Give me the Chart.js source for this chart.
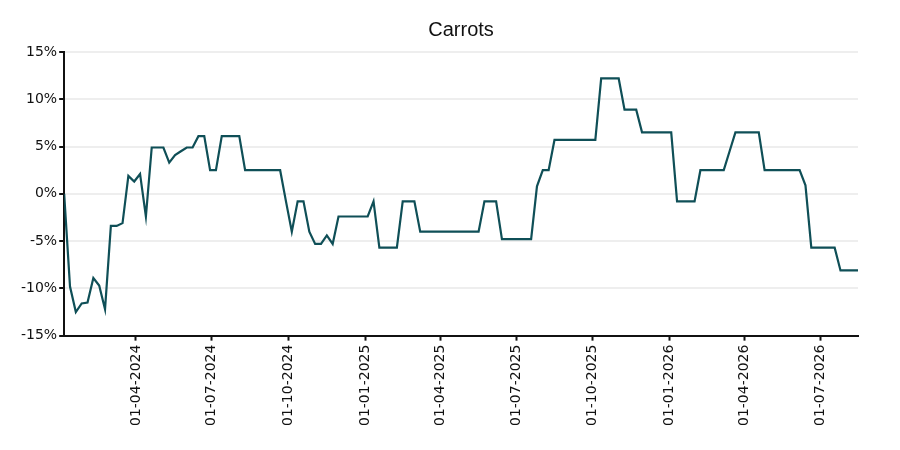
<!DOCTYPE html>
<html>
<head>
<meta charset="utf-8">
<script src="https://cdn.jsdelivr.net/npm/chart.js@4"></script>
<style>
    html, body { margin: 0; padding: 0; background: #ffffff; }
    #wrap { width: 900px; height: 450px; }
</style>
</head>
<body>
<div id="wrap"><canvas id="carrotsChart"></canvas></div>
<script>
// Weekly series, first week starts 06-01-2024
const startDate = '2024-01-06';
const changePct = [
    0, -9.8, -12.5, -11.6, -11.5, -8.9, -9.7, -12.2, -3.4, -3.4,
    -3.1, 1.9, 1.3, 2.1, -2.4, 4.9, 4.9, 4.9, 3.3, 4.1,
    4.5, 4.9, 4.9, 6.1, 6.1, 2.5, 2.5, 6.1, 6.1, 6.1,
    6.1, 2.5, 2.5, 2.5, 2.5, 2.5, 2.5, 2.5, -0.8, -4.0,
    -0.8, -0.8, -4.0, -5.3, -5.3, -4.4, -5.3, -2.4, -2.4, -2.4,
    -2.4, -2.4, -2.4, -0.8, -5.7, -5.7, -5.7, -5.7, -0.8, -0.8,
    -0.8, -4.0, -4.0, -4.0, -4.0, -4.0, -4.0, -4.0, -4.0, -4.0,
    -4.0, -4.0, -0.8, -0.8, -0.8, -4.8, -4.8, -4.8, -4.8, -4.8,
    -4.8, 0.8, 2.5, 2.5, 5.7, 5.7, 5.7, 5.7, 5.7, 5.7,
    5.7, 5.7, 12.2, 12.2, 12.2, 12.2, 8.9, 8.9, 8.9, 6.5,
    6.5, 6.5, 6.5, 6.5, 6.5, -0.8, -0.8, -0.8, -0.8, 2.5,
    2.5, 2.5, 2.5, 2.5, 4.5, 6.5, 6.5, 6.5, 6.5, 6.5,
    2.5, 2.5, 2.5, 2.5, 2.5, 2.5, 2.5, 0.9, -5.7, -5.7,
    -5.7, -5.7, -5.7, -8.1, -8.1, -8.1, -8.1
];

// Quarter ticks on the x axis
const tickDates = ['2024-04-01', '2024-07-01', '2024-10-01', '2025-01-01', '2025-04-01',
                   '2025-07-01', '2025-10-01', '2026-01-01', '2026-04-01', '2026-07-01'];
const tickLabels = ['01-04-2024', '01-07-2024', '01-10-2024', '01-01-2025', '01-04-2025',
                    '01-07-2025', '01-10-2025', '01-01-2026', '01-04-2026', '01-07-2026'];
const yTicks = [-15, -10, -5, 0, 5, 10, 15];

// Helper: date string to day number
function toDay(s) {
    return Date.parse(s + 'T00:00:00Z') / 86400000;
}

const firstDay = toDay(startDate);
const points = changePct.map((v, i) => ({ x: firstDay + i * 7, y: v }));
const tickDays = tickDates.map(toDay);

const tickFont = { family: '"DejaVu Sans", sans-serif', size: 14 };

// Center the title over the plot area instead of the whole canvas
const titleOverPlot = {
    id: 'titleOverPlot',
    afterLayout(chart) {
        const t = chart.titleBlock;
        if (!t) return;
        t.left = chart.chartArea.left;
        t.right = chart.chartArea.right;
        t.width = t.right - t.left;
    }
};

new Chart(document.getElementById('carrotsChart').getContext('2d'), {
    type: 'line',
    data: {
        datasets: [{
            label: 'Carrots',
            data: points,
            borderColor: '#0f4f57',
            borderWidth: 2.2,
            pointRadius: 0,
            tension: 0,
            fill: false
        }]
    },
    options: {
        responsive: true,
        maintainAspectRatio: false,
        animation: false,
        layout: { padding: { top: 0, right: 42, bottom: 20, left: 19 } },
        plugins: {
            legend: { display: false },
            tooltip: { enabled: false },
            title: {
                display: true,
                text: 'Carrots',
                color: '#111111',
                font: { family: '"Liberation Sans", Arial, sans-serif', size: 20, weight: 'normal' },
                padding: { top: 18, bottom: 10 }
            }
        },
        scales: {
            x: {
                type: 'linear',
                min: firstDay,
                max: firstDay + (changePct.length - 1) * 7,
                afterBuildTicks: axis => { axis.ticks = tickDays.map(v => ({ value: v })); },
                grid: { drawOnChartArea: false, tickLength: 5, tickColor: '#111111', tickWidth: 2 },
                border: { color: '#111111', width: 2 },
                ticks: {
                    autoSkip: false,
                    minRotation: 90,
                    maxRotation: 90,
                    padding: 4,
                    color: '#111111',
                    font: tickFont,
                    callback: v => tickLabels[tickDays.indexOf(v)] || ''
                }
            },
            y: {
                min: -15,
                max: 15,
                afterBuildTicks: axis => { axis.ticks = yTicks.map(v => ({ value: v })); },
                grid: { color: '#eeeeee', lineWidth: 2, tickLength: 5, tickColor: '#111111', tickWidth: 2 },
                border: { color: '#111111', width: 2 },
                ticks: {
                    padding: 2,
                    color: '#111111',
                    font: tickFont,
                    callback: v => v + '%'
                }
            }
        }
    },
    plugins: [titleOverPlot]
});
</script>
</body>
</html>
